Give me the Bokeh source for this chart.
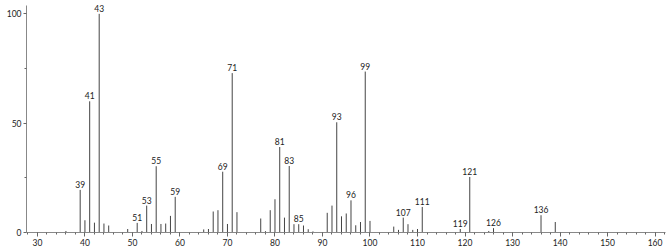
from bokeh.plotting import figure
from bokeh.models import ColumnDataSource, SingleIntervalTicker, FixedTicker, Range1d
from bokeh.core.properties import value
from bokeh.embed import file_html
from bokeh.resources import INLINE

# m/z values and relative intensities
mz = [36, 39, 40, 41, 42, 43, 44, 45, 49, 51, 52, 53, 54, 55, 56, 57, 58, 59,
      65, 66, 67, 68, 69, 70, 71, 72, 77, 78, 79, 80, 81, 82, 83, 84, 85, 86,
      87, 88, 91, 92, 93, 94, 95, 96, 97, 98, 99, 100, 105, 106, 107, 108,
      109, 110, 111, 119, 121, 125, 126, 136, 139]
intensity = [0.7, 19.5, 5.6, 60.0, 4.5, 100.0, 4.1, 3.2, 1.6, 4.4, 0.7, 12.3,
             3.9, 30.3, 3.9, 4.1, 7.6, 16.3, 1.4, 1.6, 9.6, 10.2, 27.8, 3.9,
             72.9, 9.3, 6.4, 0.6, 10.2, 15.2, 39.1, 6.8, 30.4, 3.8, 3.8, 3.2,
             1.5, 0.5, 9.0, 12.3, 50.4, 7.4, 8.7, 14.7, 3.3, 4.8, 73.6, 5.3,
             2.7, 1.2, 6.8, 3.8, 1.2, 1.6, 11.7, 1.6, 25.4, 0.7, 2.0, 7.9, 4.8]
labeled_peaks = [39, 41, 43, 51, 53, 55, 59, 69, 71, 81, 83, 85, 93, 96, 99,
                 107, 111, 119, 121, 126, 136]
y_ticks = [0, 50, 100]
y_minor_ticks = [25, 75]

lookup = dict(zip(mz, intensity))
lab_y = [lookup[m] for m in labeled_peaks]
lab_t = [str(m) for m in labeled_peaks]

p = figure(width=667, height=249, output_backend="svg", toolbar_location=None,
           x_range=Range1d(27.7, 162.2), y_range=Range1d(0, 106.1),
           min_border_left=26, min_border_right=2, min_border_top=0,
           min_border_bottom=17, background_fill_color="white",
           border_fill_color="white")
p.outline_line_color = None
p.xgrid.visible = False
p.ygrid.visible = False

src = ColumnDataSource(dict(x=mz, y0=[0] * len(mz), y1=intensity))
p.segment(x0="x", y0="y0", x1="x", y1="y1", source=src,
          line_color="#444444", line_width=1)

lsrc = ColumnDataSource(dict(x=labeled_peaks, y=lab_y, t=lab_t))
p.text(x="x", y="y", text="t", source=lsrc, text_align="center",
       text_baseline="bottom", y_offset=-2, text_font=value("Lato"),
       text_font_size="8.5px", text_color="#222222")

xa = p.xaxis[0]
xa.ticker = SingleIntervalTicker(interval=10, num_minor_ticks=5)
xa.axis_line_color = "#888888"
xa.major_tick_line_color = "#666666"
xa.minor_tick_line_color = "#666666"
xa.major_tick_out = 4
xa.major_tick_in = 0
xa.minor_tick_out = 2
xa.minor_tick_in = 0
xa.major_label_standoff = 2
xa.major_label_text_font = "Lato"
xa.major_label_text_font_size = "8.5px"
xa.major_label_text_color = "#222222"

ya = p.yaxis[0]
ya.ticker = FixedTicker(ticks=y_ticks, minor_ticks=y_minor_ticks)
ya.bounds = (0, 103.8)
ya.axis_line_color = "#888888"
ya.major_tick_line_color = "#666666"
ya.minor_tick_line_color = "#666666"
ya.major_tick_out = 3
ya.major_tick_in = 0
ya.minor_tick_out = 2
ya.minor_tick_in = 0
ya.major_label_standoff = 2
ya.major_label_text_font = "Lato"
ya.major_label_text_font_size = "8.5px"
ya.major_label_text_color = "#222222"

open("out.html", "w").write(file_html(p, INLINE))
